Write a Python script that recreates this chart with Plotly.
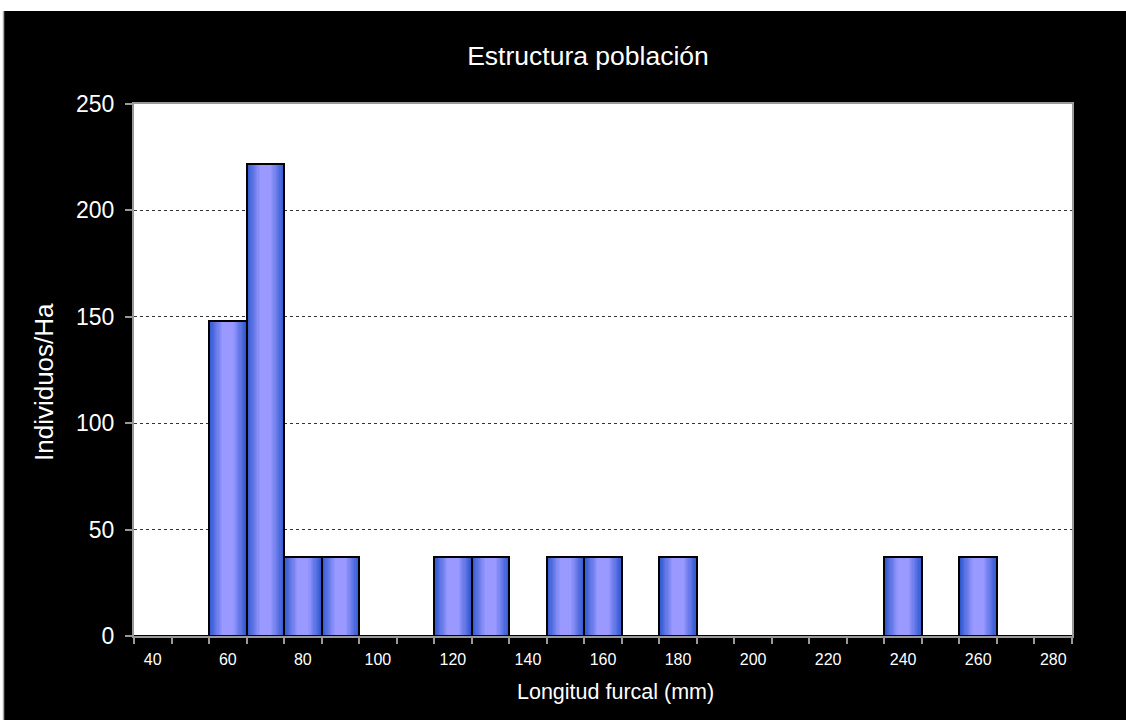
import plotly.graph_objects as go

# Data
lengths = [40, 50, 60, 70, 80, 90, 100, 110, 120, 130, 140, 150, 160, 170, 180,
           190, 200, 210, 220, 230, 240, 250, 260, 270, 280]
individuals = [0, 0, 148, 222, 37, 37, 0, 0, 37, 37, 0, 37, 37, 0, 37,
               0, 0, 0, 0, 0, 37, 0, 37, 0, 0]
tick_labels = [40, 60, 80, 100, 120, 140, 160, 180, 200, 220, 240, 260, 280]

title_text = "Estructura población"
x_title = "Longitud furcal (mm)"
y_title = "Individuos/Ha"

FONT = "Arial, Liberation Sans, sans-serif"

fig = go.Figure()

# gradient bars: layered overlays from dark edge to light centre
dark = (48, 88, 208)
light = (153, 153, 255)
N = 12
for k in range(N):
    t = k / (N - 1)
    c = tuple(round(dark[i] + (light[i] - dark[i]) * t) for i in range(3))
    w = 10 * (1 - 0.7 * t)
    fig.add_trace(go.Bar(
        x=lengths, y=individuals, width=w,
        marker=dict(color="rgb(%d,%d,%d)" % c, line=dict(width=0)),
        hoverinfo="skip", showlegend=False))
# outline
fig.add_trace(go.Bar(
    x=lengths, y=individuals, width=10,
    marker=dict(color="rgba(0,0,0,0)", line=dict(color="black", width=2)),
    showlegend=False))

ph = 532.0
pw = 938.0

fig.update_layout(
    width=1126, height=720,
    barmode="overlay", bargap=0,
    paper_bgcolor="black", plot_bgcolor="white",
    margin=dict(l=134, r=54, t=104, b=84),
    font=dict(family=FONT, color="white"),
    title=dict(text=title_text, x=0.484, xref="paper", xanchor="center",
               y=1 - 56 / 720, yanchor="middle",
               font=dict(size=26.5, color="white", family=FONT)),
    showlegend=False,
    annotations=[
        dict(text=x_title, xref="paper", yref="paper",
             x=(615 - 134) / pw, y=(636 - 692) / ph,
             xanchor="center", yanchor="middle", showarrow=False,
             font=dict(size=21.5, color="white", family=FONT)),
        dict(text=y_title, xref="paper", yref="paper",
             x=(44 - 134) / pw, y=(636 - 382) / ph, textangle=-90,
             xanchor="center", yanchor="middle", showarrow=False,
             font=dict(size=26, color="white", family=FONT)),
    ],
)

fig.update_xaxes(
    range=[35, 285],
    tickmode="array", tickvals=tick_labels, ticktext=[str(v) for v in tick_labels],
    ticks="", tickfont=dict(size=16, color="white"),
    ticklabelstandoff=8,
    minor=dict(tick0=35, dtick=10, ticks="outside", ticklen=6,
               tickcolor="#999999", tickwidth=2, showgrid=False),
    showgrid=False, zeroline=False,
    showline=True, linecolor="#999999", linewidth=2, mirror=True,
)
fig.update_yaxes(
    range=[0, 250], tickvals=[0, 50, 100, 150, 200, 250],
    ticks="outside", ticklen=7, tickcolor="#999999", tickwidth=2,
    tickfont=dict(size=23, color="white"), ticklabelstandoff=6,
    showgrid=True, gridcolor="#333333", griddash="dot", gridwidth=1,
    zeroline=False,
    showline=True, linecolor="#999999", linewidth=2, mirror=True,
)

# white strip at top and thin grey line at left edge of the frame
fig.add_shape(type="rect", xref="paper", yref="paper",
              x0=-0.3, x1=1.2, y0=(636 - 11) / ph, y1=1.3,
              fillcolor="white", line=dict(width=0), layer="above")
fig.add_shape(type="rect", xref="paper", yref="paper",
              x0=-0.3, x1=(3 - 134) / pw, y0=(636 - 11) / ph, y1=-0.3,
              fillcolor="white", line=dict(width=0), layer="above")
fig.add_shape(type="line", xref="paper", yref="paper",
              x0=(3.5 - 134) / pw, x1=(3.5 - 134) / pw, y0=(636 - 11) / ph, y1=-0.3,
              line=dict(color="#aaaaaa", width=1.5), layer="above")

fig.write_html("out.html", config={"displayModeBar": False},
               post_script="document.body.style.margin='0';")
